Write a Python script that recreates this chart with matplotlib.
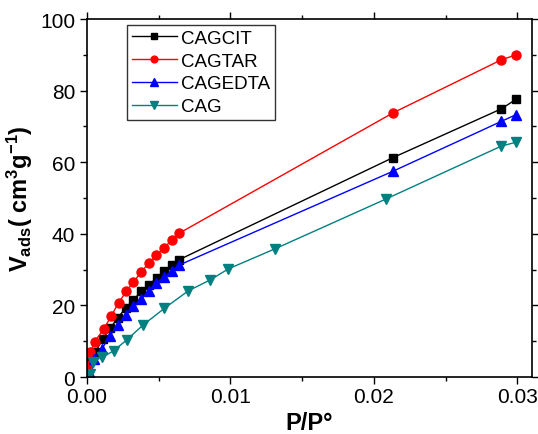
import matplotlib
matplotlib.use("Agg")
import matplotlib.pyplot as plt
from matplotlib.ticker import MultipleLocator, FormatStrFormatter

plt.rcParams['font.family'] = ['Liberation Sans', 'DejaVu Sans']
plt.rcParams['mathtext.default'] = 'regular'
plt.rcParams['axes.unicode_minus'] = False

# --- Data ---
p_cagcit = [0.0001, 0.00058, 0.00109, 0.00162, 0.00216, 0.0027, 0.00324, 0.00378,
            0.0043, 0.00486, 0.00538, 0.00592, 0.00644, 0.02134, 0.02888, 0.02992]
v_cagcit = [4.5, 6.9, 10.6, 13.6, 16.6, 19.3, 21.6, 23.9,
            25.7, 27.7, 29.5, 31.3, 32.8, 61.3, 74.9, 77.6]

p_cagtar = [0.0001, 0.00024, 0.00053, 0.00116, 0.00168, 0.0022, 0.00273, 0.00324,
            0.00378, 0.00431, 0.00484, 0.00538, 0.00592, 0.00644, 0.02134, 0.02888, 0.02992]
v_cagtar = [3.0, 6.9, 9.9, 13.3, 17.0, 20.7, 23.9, 26.5,
            29.4, 31.8, 34.1, 36.1, 38.3, 40.2, 73.8, 88.6, 90.0]

p_cagedta = [0.00024, 0.00046, 0.00104, 0.00157, 0.00216, 0.0027, 0.00324, 0.00378,
             0.00431, 0.00484, 0.00538, 0.00592, 0.00644, 0.02134, 0.02888, 0.02992]
v_cagedta = [0.8, 5.0, 7.8, 11.5, 14.5, 17.3, 19.7, 21.8,
             24.1, 26.3, 27.9, 29.7, 31.3, 57.5, 71.4, 73.3]

p_cag = [0.00024, 0.00042, 0.00104, 0.00185, 0.00278, 0.0039, 0.0054, 0.00707,
         0.00858, 0.00985, 0.0131, 0.02083, 0.02888, 0.02992]
v_cag = [0.8, 4.3, 5.5, 7.3, 10.4, 14.5, 19.2, 24.1,
         27.1, 30.2, 35.8, 49.7, 64.5, 65.6]

fig = plt.figure(figsize=(5.38, 4.35), dpi=100)
ax = fig.add_axes([0.1617, 0.131, 0.8266, 0.823])

ax.plot(p_cagcit, v_cagcit, '-s', color='black', ms=6, lw=1, label='CAGCIT')
ax.plot(p_cagtar, v_cagtar, '-o', color='#ff0000', ms=6.5, lw=1, label='CAGTAR')
ax.plot(p_cagedta, v_cagedta, '-^', color='#0000ff', ms=7, lw=1, label='CAGEDTA')
ax.plot(p_cag, v_cag, '-v', color='#008080', ms=7, lw=1, label='CAG')

ax.set_xlim(0, 0.031)
ax.set_ylim(0, 100)
ax.xaxis.set_major_locator(MultipleLocator(0.01))
ax.xaxis.set_minor_locator(MultipleLocator(0.005))
ax.yaxis.set_major_locator(MultipleLocator(20))
ax.yaxis.set_minor_locator(MultipleLocator(10))
ax.xaxis.set_major_formatter(FormatStrFormatter('%.2f'))

ax.tick_params(which='both', direction='out', labelsize=15, top=True, right=True,
               width=1)
ax.tick_params(which='major', length=5)
ax.tick_params(which='minor', length=3)
ax.tick_params(axis='x', pad=2)
for s in ax.spines.values():
    s.set_linewidth(1.2)

ax.set_xlabel('P/P°', fontsize=17, fontweight='bold', labelpad=4)
ax.set_ylabel('V$_{ads}$( cm$^{3}$g$^{-1}$)', fontsize=17, fontweight='bold', labelpad=4)

leg = ax.legend(loc='upper left', bbox_to_anchor=(0.09, 0.983), fontsize=13.5,
                frameon=True, fancybox=False, edgecolor='black', handlelength=2.4,
                handletextpad=0.25, borderpad=0.25, borderaxespad=0,
                labelspacing=0.3, markerscale=0.75)
leg.get_frame().set_linewidth(1)

fig.savefig('out.png', dpi=100)
